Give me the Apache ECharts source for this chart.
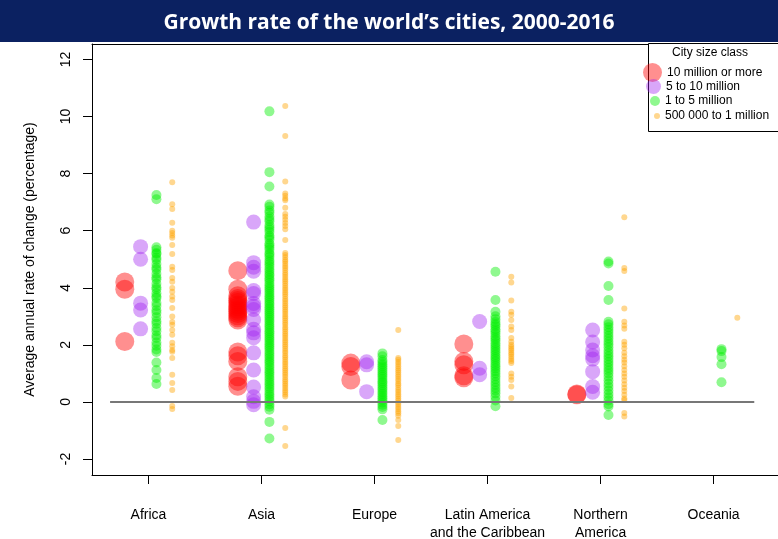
<!DOCTYPE html>
<html>
<head>
<meta charset="utf-8">
<script src="https://cdn.jsdelivr.net/npm/echarts@6/dist/echarts.min.js"></script>
<style>html,body{margin:0;padding:0;background:#fff}#chart{width:778px;height:539px}</style>
</head>
<body>
<div id="chart"></div>
<script>
const regions = ['Africa', 'Asia', 'Europe', 'Latin America\nand the Caribbean', 'Northern\nAmerica', 'Oceania'];
const yTicks = [-2, 0, 2, 4, 6, 8, 10, 12];
const classNames = ['10 million or more', '5 to 10 million', '1 to 5 million', '500 000 to 1 million'];

// values per region (Africa, Asia, Europe, Latin America, Northern America, Oceania)
const cities10mPlus = [
  [4.2, 3.95, 2.12],
  [4.6, 3.95, 3.72, 3.62, 3.55, 3.48, 3.4, 3.33, 3.25, 3.18, 3.1, 3.02, 2.95, 2.87, 1.75, 1.62, 1.42, 0.88, 0.72, 0.55],
  [1.36, 1.24, 0.77],
  [2.03, 1.42, 1.3, 0.92, 0.85],
  [0.28, 0.25],
  []
];
const cities5to10m = [
  [5.44, 5.0, 3.46, 3.22, 2.56],
  [6.3, 4.88, 4.72, 4.58, 3.9, 3.8, 3.45, 3.35, 3.24, 2.88, 2.55, 2.42, 2.25, 1.72, 1.12, 0.52, 0.18, 0.02, -0.1],
  [1.41, 1.3, 0.36],
  [2.82, 1.18, 0.95],
  [2.52, 2.1, 1.82, 1.62, 1.5, 1.06, 0.54, 0.34],
  []
];
const cities1to5m = [
  [7.25, 7.1, 5.42, 5.33, 5.22, 5.18, 5.05, 4.98, 4.83, 4.71, 4.64, 4.49, 4.37, 4.3, 4.14, 4.02, 3.95, 3.81, 3.7, 3.64, 3.47, 3.36, 3.21, 3.12, 2.97, 2.83, 2.74, 2.59, 2.48, 2.33, 2.24, 2.08, 1.97, 1.84, 1.75, 1.38, 1.12, 0.84, 0.63],
  [10.18, 8.05, 7.55, 6.92, 6.84, 6.71, 6.63, 6.5, 6.41, 6.33, 6.2, 6.12, 6.04, 5.95, 5.83, 5.77, 5.68, 5.55, 5.49, 5.41, 5.33, 5.22, 5.16, 5.08, 4.97, 4.9, 4.82, 4.74, 4.65, 4.57, 4.48, 4.42, 4.33, 4.26, 4.17, 4.09, 4.01, 3.94, 3.86, 3.78, 3.7, 3.63, 3.55, 3.47, 3.4, 3.32, 3.25, 3.17, 3.1, 3.02, 2.95, 2.87, 2.8, 2.71, 2.64, 2.56, 2.48, 2.41, 2.33, 2.25, 2.18, 2.1, 2.02, 1.94, 1.87, 1.78, 1.7, 1.62, 1.54, 1.45, 1.38, 1.29, 1.21, 1.12, 1.04, 0.96, 0.87, 0.79, 0.7, 0.62, 0.53, 0.45, 0.36, 0.27, 0.19, 0.1, 0.02, -0.08, -0.17, -0.27, -0.7, -1.28],
  [1.7, 1.6, 1.47, 1.4, 1.32, 1.25, 1.18, 1.1, 1.02, 0.95, 0.88, 0.8, 0.72, 0.66, 0.58, 0.5, 0.43, 0.35, 0.28, 0.2, 0.13, 0.06, -0.02, -0.1, -0.18, -0.26, -0.63],
  [4.56, 3.57, 3.16, 3.0, 2.9, 2.8, 2.72, 2.65, 2.55, 2.48, 2.4, 2.3, 2.22, 2.15, 2.06, 1.98, 1.9, 1.82, 1.74, 1.65, 1.57, 1.5, 1.42, 1.33, 1.25, 1.17, 1.08, 1.0, 0.9, 0.8, 0.7, 0.6, 0.5, 0.4, 0.3, 0.18, 0.05, -0.15],
  [4.92, 4.85, 4.06, 3.57, 2.81, 2.72, 2.62, 2.52, 2.42, 2.32, 2.22, 2.12, 2.02, 1.92, 1.8, 1.7, 1.6, 1.5, 1.4, 1.3, 1.2, 1.1, 1.0, 0.88, 0.76, 0.64, 0.52, 0.4, 0.28, 0.16, 0.05, -0.08, -0.16, -0.46],
  [1.85, 1.78, 1.57, 1.32, 0.69]
];
const cities500kto1m = [
  [7.7, 6.93, 6.76, 6.28, 6.0, 5.92, 5.83, 5.75, 5.5, 5.18, 4.74, 4.62, 4.34, 4.21, 3.99, 3.86, 3.69, 3.57, 3.29, 2.99, 2.8, 2.7, 2.52, 2.35, 2.07, 1.95, 1.82, 1.76, 1.54, 0.95, 0.66, 0.42, -0.14, -0.25],
  [10.37, 9.32, 7.72, 7.3, 7.22, 7.13, 7.07, 6.8, 6.58, 6.49, 6.38, 6.27, 6.16, 6.05, 5.67, 5.22, 5.15, 5.07, 4.98, 4.92, 4.84, 4.76, 4.69, 4.61, 4.53, 4.46, 4.38, 4.3, 4.23, 4.15, 4.07, 3.99, 3.92, 3.84, 3.77, 3.69, 3.61, 3.54, 3.46, 3.38, 3.31, 3.23, 3.16, 3.08, 3.0, 2.93, 2.85, 2.77, 2.7, 2.62, 2.55, 2.47, 2.39, 2.32, 2.24, 2.16, 2.09, 2.01, 1.94, 1.86, 1.78, 1.71, 1.63, 1.56, 1.48, 1.4, 1.33, 1.25, 1.17, 1.1, 1.02, 0.95, 0.87, 0.79, 0.72, 0.64, 0.57, 0.49, 0.41, 0.34, 0.26, 0.19, -0.91, -1.54],
  [2.52, 1.54, 1.48, 1.4, 1.33, 1.25, 1.17, 1.1, 1.03, 0.95, 0.88, 0.8, 0.73, 0.65, 0.58, 0.5, 0.42, 0.35, 0.27, 0.2, 0.12, 0.05, -0.03, -0.1, -0.18, -0.25, -0.33, -0.4, -0.48, -0.63, -0.84, -1.33],
  [4.39, 4.18, 3.55, 3.16, 3.05, 2.87, 2.64, 2.52, 2.24, 2.11, 2.0, 1.93, 1.86, 1.8, 1.72, 1.66, 1.58, 1.5, 1.43, 1.36, 1.0, 0.88, 0.77, 0.54, 0.14],
  [6.47, 4.69, 4.59, 3.27, 2.81, 2.68, 2.56, 2.11, 2.0, 1.88, 1.72, 1.6, 1.48, 1.38, 1.25, 1.12, 1.0, 0.88, 0.75, 0.62, 0.5, 0.38, 0.25, 0.12, 0.07, -0.39, -0.51],
  [2.95]
];
const zeroLineSpan = [0.66, 6.36];

const classData = [cities10mPlus, cities5to10m, cities1to5m, cities500kto1m];
const classColors = ['rgba(255,0,0,0.55)', 'rgba(160,32,240,0.5)', 'rgba(0,238,0,0.55)', 'rgba(255,165,0,0.55)'];
const classSizes = [19, 15, 10, 6];
const classOffsets = [-0.21, -0.07, 0.07, 0.21];

function toPoints(perRegion, offset) {
  const pts = [];
  perRegion.forEach((vals, i) => vals.forEach(v => pts.push([i + 1 + offset, v])));
  return pts;
}

const font = "'Liberation Sans', Arial, sans-serif";
const chart = echarts.init(document.getElementById('chart'), null, {renderer: 'canvas'});

const series = classNames.map((name, k) => ({
  name: name,
  type: 'scatter',
  data: toPoints(classData[k], classOffsets[k]),
  symbol: 'circle',
  symbolSize: classSizes[k],
  itemStyle: {color: classColors[k]},
  silent: true,
  z: 2
}));
series.push({
  name: 'zero',
  type: 'line',
  data: [[zeroLineSpan[0], 0], [zeroLineSpan[1], 0]],
  symbol: 'none',
  lineStyle: {color: '#777', width: 2},
  silent: true,
  z: 5
});

const legendPos = [
  {left: 643, top: 63, w: 19},
  {left: 646, top: 79, w: 15},
  {left: 650, top: 94, w: 10},
  {left: 654, top: 109, w: 6}
];

const xMin = 0.5, xMax = 6.57;

chart.setOption({
  animation: false,
  backgroundColor: '#fff',
  title: [
    {text: 'Growth rate of the world\u2019s cities, 2000-2016', left: 'center', top: 8,
     textStyle: {color: '#fff', fontSize: 21, fontWeight: 'bold', fontFamily: "'Liberation Sans Narrow', 'Open Sans', sans-serif"}, z: 20},
    {text: 'City size class', left: 672, top: 47, padding: 0,
     textStyle: {color: '#000', fontSize: 12, fontWeight: 'normal', fontFamily: font}, z: 20}
  ],
  graphic: [
    {type: 'rect', shape: {x: 0, y: 0, width: 778, height: 42}, style: {fill: '#0b2161'}, z: 10, silent: true},
    {type: 'rect', shape: {x: 648.5, y: 43.5, width: 140, height: 88}, style: {fill: '#fff', stroke: '#000', lineWidth: 1}, z: 10, silent: true}
  ],
  legend: classNames.map((name, k) => ({
    data: [name],
    left: legendPos[k].left,
    top: legendPos[k].top,
    padding: 0,
    icon: 'circle',
    itemWidth: legendPos[k].w,
    itemHeight: legendPos[k].w,
    selectedMode: false,
    textStyle: {fontSize: 12, color: '#000', fontFamily: font, lineHeight: 14},
    z: 20
  })),
  grid: {left: 92, top: 44, bottom: 64, right: 0, show: false, containLabel: false, outerBoundsMode: 'none'},
  xAxis: [{
    type: 'value', min: xMin, max: xMax,
    axisLine: {show: true, onZero: false, lineStyle: {color: '#000', width: 1}},
    splitLine: {show: false},
    axisTick: {show: true, customValues: [1, 2, 3, 4, 5, 6], length: 9, lineStyle: {color: '#000'}},
    axisLabel: {
      customValues: [1, 2, 3, 4, 5, 6],
      formatter: v => regions[Math.round(v) - 1],
      margin: 31, fontSize: 14, lineHeight: 18, color: '#000', fontFamily: font
    }
  }, {
    type: 'value', position: 'top', min: xMin, max: xMax,
    axisLine: {show: true, onZero: false, lineStyle: {color: '#000', width: 1}},
    splitLine: {show: false}, axisTick: {show: false}, axisLabel: {show: false}
  }],
  yAxis: {
    type: 'value', min: -2.56, max: 12.54,
    name: 'Average annual rate of change (percentage)',
    nameLocation: 'middle', nameRotate: 90, nameGap: 55,
    nameTextStyle: {fontSize: 14, color: '#000', fontFamily: font},
    axisLine: {show: true, onZero: false, lineStyle: {color: '#000', width: 1}},
    splitLine: {show: false},
    axisTick: {show: true, customValues: yTicks, length: 9, lineStyle: {color: '#000'}},
    axisLabel: {customValues: yTicks, rotate: 90, margin: 19, fontSize: 14, color: '#000', fontFamily: font}
  },
  series: series
});
</script>
</body>
</html>
